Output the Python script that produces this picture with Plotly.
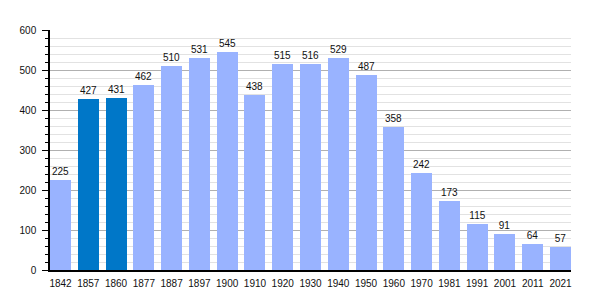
import plotly.graph_objects as go

years = ["1842", "1857", "1860", "1877", "1887", "1897", "1900", "1910", "1920", "1930",
         "1940", "1950", "1960", "1970", "1981", "1991", "2001", "2011", "2021"]
population = [225, 427, 431, 462, 510, 531, 545, 438, 515, 516,
              529, 487, 358, 242, 173, 115, 91, 64, 57]
highlight = ["1857", "1860"]

light = "#99B3FF"
dark = "#0077C8"
colors = [dark if y in highlight else light for y in years]
idx = list(range(len(years)))
w = 0.756

fig = go.Figure(go.Bar(
    x=idx, y=population, width=w, marker=dict(color=colors, line=dict(width=0)),
    text=[str(v) for v in population], textposition="outside", cliponaxis=False,
    textfont=dict(family="Liberation Sans, Arial", size=10, color="#111"),
))
fig.update_layout(
    width=600, height=300, margin=dict(l=50, r=29, t=30, b=30),
    paper_bgcolor="white", plot_bgcolor="white", showlegend=False,
    font=dict(family="Liberation Sans, Arial", size=10, color="#111"),
    bargap=0,
)
fig.update_xaxes(
    range=[-w / 2, len(years) - 1 + w / 2], tickvals=idx, ticktext=years,
    showgrid=False, zeroline=False, showline=True, linecolor="black", linewidth=1.5,
    ticks="", ticklabelstandoff=3,
)
fig.update_yaxes(
    range=[0, 600], dtick=100, showgrid=True, gridcolor="#b0b0b0", gridwidth=1,
    zeroline=False, showline=True, linecolor="black", linewidth=1.5,
    ticks="outside", ticklen=6, tickcolor="black", tickwidth=1,
    minor=dict(dtick=20, ticks="outside", ticklen=3, tickcolor="black",
               showgrid=True, gridcolor="#e2e2e2", gridwidth=1),
    ticklabelstandoff=4,
)
fig.write_html("out.html")
